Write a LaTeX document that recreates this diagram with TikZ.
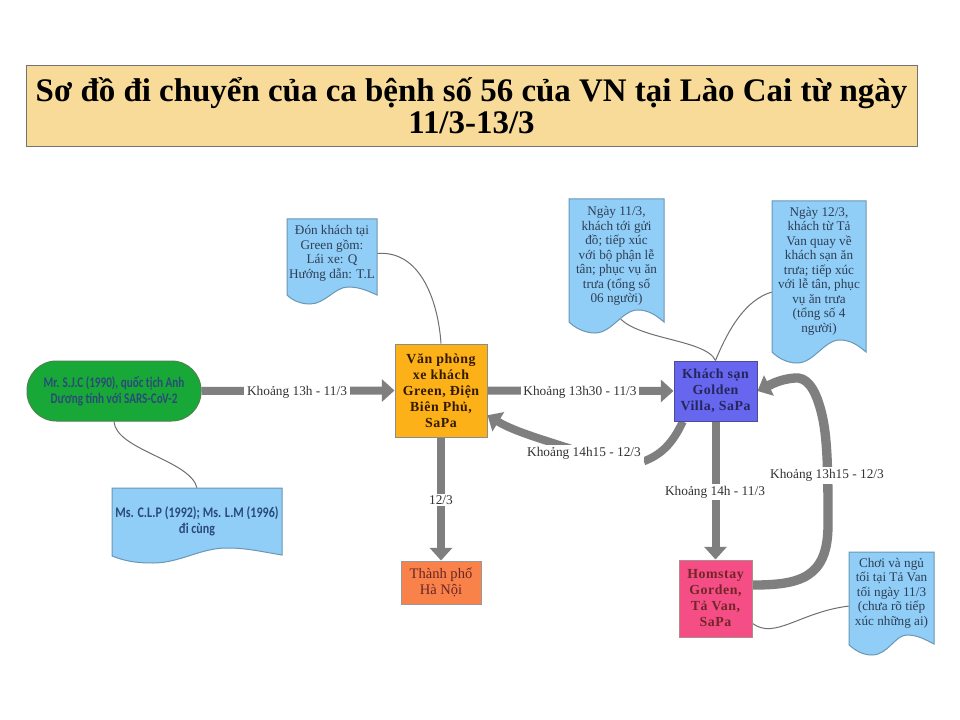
\documentclass[tikz,border=0pt]{standalone}
\usepackage{fontspec}
\usetikzlibrary{arrows.meta}
\setmainfont{Liberation Serif}
\newfontfamily\spaced[LetterSpace=4]{Liberation Serif}
\newfontfamily\sansb[FakeStretch=0.76]{Carlito}
\newfontfamily\sansc[FakeStretch=0.82]{Carlito}
\pgfdeclarelayer{bg}
\pgfsetlayers{bg,main}
\definecolor{arrowgray}{HTML}{7F7F7F}
\definecolor{thin}{HTML}{6F6F6F}
\definecolor{docblue}{HTML}{90CDF7}
\definecolor{docline}{HTML}{6A97B3}
\definecolor{doctext}{HTML}{2E3F55}
\definecolor{titlefill}{HTML}{F8DB98}
\definecolor{gfill}{HTML}{17A838}
\definecolor{gtext}{HTML}{2B4A78}
\definecolor{vpfill}{HTML}{FBB117}
\definecolor{gvfill}{HTML}{6666EE}
\definecolor{hsfill}{HTML}{F54E86}
\definecolor{hnfill}{HTML}{F9814A}
\tikzset{
  x=0.75pt,y=-0.75pt,
  bigarrow/.style={draw=arrowgray,line width=6pt,-{Triangle[length=9.5pt,width=16.5pt]}},
  hugearrow/.style={bigarrow,line width=7pt},
  thinlink/.style={draw=thin,line width=0.75pt},
  edgelabel/.style={fill=white,inner xsep=2pt,inner ysep=1.5pt,font=\fontsize{10}{12}\selectfont,text=black!80},
  docshape/.style={fill=docblue,draw=docline,line width=0.75pt},
  doctxt/.style={align=center,inner sep=0pt,font=\fontsize{9.9}{10.9}\selectfont,text=doctext},
  place/.style={draw,line width=0.75pt,align=center,inner sep=0pt,font=\fontsize{10.4}{12}\selectfont\spaced\bfseries},
}
\begin{document}
\begin{tikzpicture}
\useasboundingbox (0,0) rectangle (960,720);

% title
\node[draw=black!55,fill=titlefill,line width=0.75pt,minimum width=668.25pt,minimum height=60.75pt,inner sep=0pt,align=center,
  font=\fontsize{24.7}{24}\selectfont\bfseries,text=black] (title) at (471.5,106.5)
  {\raisebox{1.5pt}{Sơ đồ đi chuyển của ca bệnh số 56 của VN tại Lào Cai từ ngày}\\\raisebox{1.5pt}{11/3-13/3}};

% main places
\node[draw=green!30!black!70,fill=gfill,rounded corners=22pt,line width=0.75pt,minimum width=130.5pt,minimum height=45pt,inner sep=0pt,align=center,
  font=\fontsize{11}{12}\selectfont\sansb\bfseries,text=gtext] (green) at (114,391)
  {Mr. S.J.C (1990), quốc tịch Anh\\Dương tính với SARS-CoV-2};
\node[place,draw=black!45,fill=vpfill,text=black!80!orange,minimum width=69pt,minimum height=69.75pt] (vp) at (441,390.5)
  {Văn phòng\\xe khách\\Green, Điện\\Biên Phủ,\\SaPa};
\node[place,draw=blue!40!black!70,fill=gvfill,text=blue!25!black!85,minimum width=62.25pt,minimum height=45pt] (golden) at (715.5,391)
  {Khách sạn\\Golden\\Villa, SaPa};
\node[draw=black!40,fill=hnfill,line width=0.75pt,minimum width=60pt,minimum height=32.25pt,inner sep=0pt,align=center,
  font=\fontsize{10.9}{12.5}\selectfont,text=red!30!black!85] (hanoi) at (441,582.5) {Thành phố\\Hà Nội};
\node[place,draw=red!30!black!45,fill=hsfill,text=red!35!black!85,minimum width=54.75pt,minimum height=57.75pt] (homstay) at (715.5,598.5)
  {Homstay\\Gorden,\\Tả Van,\\SaPa};

% document shapes
\path[docshape] (112,488) -- (282,488) -- (282,555) .. controls (258,551) and (246,548) .. (227,548)
  .. controls (200,548) and (180,563) .. (153,563) .. controls (135,563) and (125,561) .. (112,556) -- cycle;
\node[doctxt,font=\fontsize{11}{12}\selectfont\sansc\bfseries,text=gtext,minimum width=127.5pt,minimum height=49.5pt] (ms) at (197,521)
  {Ms. C.L.P (1992); Ms. L.M (1996)\\đi cùng};

\path[docshape] (287,219) -- (377,219) -- (377,295) .. controls (368,291) and (360,287) .. (348,287)
  .. controls (335,287) and (325,304) .. (310,304) .. controls (300,304) and (292,300) .. (287,295) -- cycle;
\node[doctxt,minimum width=67.5pt,minimum height=51.75pt] (don) at (332,253.5)
  {Đón khách tại\\Green gồm:\\Lái xe: Q\hspace{15pt}\\Hướng dẫn: T.L};

\path[docshape] (569,199) -- (664,199) -- (664,322) .. controls (656,315) and (648,310) .. (638,310)
  .. controls (622,310) and (612,333) .. (595,333) .. controls (585,333) and (575,328) .. (569,322) -- cycle;
\node[doctxt,minimum width=71.25pt,minimum height=85.5pt] (ngay11) at (616.5,256)
  {Ngày 11/3,\\khách tới gửi\\đồ; tiếp xúc\\với bộ phận lễ\\tân; phục vụ ăn\\trưa (tổng số\\06 người)};

\path[docshape] (772,201) -- (866,201) -- (866,352) .. controls (858,345) and (850,340) .. (840,340)
  .. controls (824,340) and (814,363) .. (797,363) .. controls (787,363) and (778,358) .. (772,352) -- cycle;
\node[doctxt,minimum width=70.5pt,minimum height=105pt] (ngay12) at (819,271)
  {Ngày 12/3,\\khách từ Tả\\Van quay về\\khách sạn ăn\\trưa; tiếp xúc\\với lễ tân, phục\\vụ ăn trưa\\(tổng số 4\\người)};

\path[docshape] (849,552) -- (934,552) -- (934,644) .. controls (926,640) and (918,635) .. (907,635)
  .. controls (895,635) and (888,655) .. (872,655) .. controls (862,655) and (855,650) .. (849,645) -- cycle;
\node[doctxt,minimum width=63.75pt,minimum height=61.5pt] (choi) at (891.5,593)
  {Chơi và ngủ\\tối tại Tả Van\\tối ngày 11/3\\(chưa rõ tiếp\\xúc những ai)};

% connector labels
\node[edgelabel] (l1) at (297,392) {Khoảng 13h - 11/3};
\node[edgelabel] (l2) at (580,392) {Khoảng 13h30 - 11/3};
\node[edgelabel] (l3) at (584,453) {Khoảng 14h15 - 12/3};
\node[edgelabel] (l4) at (715,492) {Khoảng 14h - 11/3};
\node[edgelabel] (l5) at (827,475.5) {Khoảng 13h15 - 12/3};
\node[edgelabel] (l6) at (441,500) {12/3};

% connectors
\begin{pgfonlayer}{bg}
\fill[white] (0,0) rectangle (960,720);
\draw[bigarrow] (green.east) -- (vp.west);
\draw[bigarrow] (vp.east) -- (golden.west);
\draw[bigarrow] (golden.south) -- (homstay.north);
\draw[bigarrow] (vp.south) -- (hanoi.north);
\draw[draw=arrowgray,line width=6pt] (golden.-137) .. controls (672,445) and (660,455) .. (l3.south east);
\draw[bigarrow] (l3.center) .. controls (545,440) and (515,432) .. (vp.-28);
\draw[hugearrow] (homstay.20) .. controls (800,585) and (828,578) .. (828,525)
  .. controls (828,480) and (828,440) .. (822,415)
  .. controls (815,385) and (805,377) .. (795,378)
  .. controls (780,379) and (770,385) .. (golden.east);
\draw[thinlink] (green.south) .. controls (116,450) and (190,460) .. (ms.north);
\draw[thinlink] (don.east) .. controls (420,250) and (438,300) .. (vp.north);
\draw[thinlink] (ngay11.south) .. controls (630,340) and (705,338) .. (golden.north);
\draw[thinlink] (ngay12.204) .. controls (745,300) and (728,330) .. (golden.north);
\draw[thinlink] (homstay.-34) .. controls (775,640) and (800,612) .. (choi.197);
\end{pgfonlayer}
\end{tikzpicture}
\end{document}
